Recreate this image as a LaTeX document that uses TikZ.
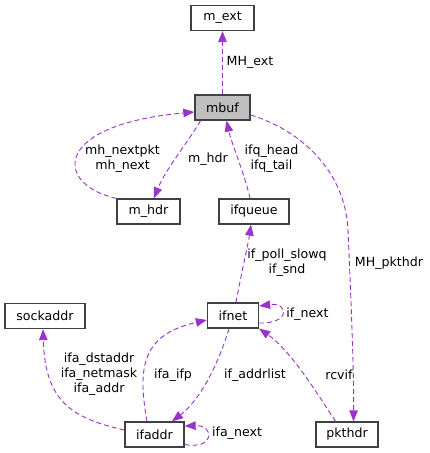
\documentclass[tikz,border=0pt]{standalone}
\usepackage{fontspec}
\setmainfont{DejaVu Sans}
\usetikzlibrary{arrows.meta}
\definecolor{edgepurple}{HTML}{9A32CD}
\definecolor{nodegray}{HTML}{BFBFBF}
\definecolor{boxline}{HTML}{404040}

\begin{document}
\begin{tikzpicture}[
    x=1pt, y=-1pt,
    cls/.style={
        draw=boxline,
        line width=1.3pt,
        fill=white,
        minimum height=25pt,
        inner sep=0pt,
        font=\fontsize{12.6}{15}\selectfont
    },
    usage/.style={
        -{Triangle[length=11pt,width=8.5pt]},
        dash pattern=on 5pt off 3pt,
        line width=0.9pt,
        color=edgepurple
    },
    lbl/.style={
        font=\fontsize{12.6}{15}\selectfont,
        align=center,
        inner sep=0pt
    }
]
\useasboundingbox (0,0) rectangle (429,453);

% classes
\node[cls, minimum width=63pt] (m_ext) at (222.5, 18) {m\_ext};
\node[cls, minimum width=55pt, fill=nodegray] (mbuf) at (222.5, 107.5) {mbuf};
\node[cls, minimum width=63pt] (m_hdr) at (148.5, 211.5) {m\_hdr};
\node[cls, minimum width=70pt] (ifqueue) at (254, 211.5) {ifqueue};
\node[cls, minimum width=80pt] (sockaddr) at (45, 316) {sockaddr};
\node[cls, minimum width=51pt] (ifnet) at (233, 315.5) {ifnet};
\node[cls, minimum width=59pt] (ifaddr) at (154.5, 434.5) {ifaddr};
\node[cls, minimum width=62pt] (pkthdr) at (347, 434.5) {pkthdr};

% usage edges
\draw[usage] (mbuf.north) -- (m_ext.south);
\draw[usage] (m_hdr.north west) .. controls (55,185) and (50,125) .. ([yshift=-4.5pt]mbuf.west);
\draw[usage] ([xshift=-22pt]mbuf.south) .. controls (193,135) and (165,170) .. ([xshift=5.5pt]m_hdr.north);
\draw[usage] ([xshift=-4pt]ifqueue.north) .. controls (245,175) and (232,145) .. ([xshift=4pt]mbuf.south);
\draw[usage] ([yshift=-7.5pt]mbuf.east) .. controls (300,130) and (345,170) .. (348,230)
    .. controls (351,300) and (354,370) .. ([xshift=6.5pt]pkthdr.north);
\draw[usage] ([xshift=3pt]ifnet.north) .. controls (241,275) and (248,245) .. ([xshift=-3pt]ifqueue.south);
\draw[usage] ([yshift=-7.5pt]ifnet.east) .. controls (291,324) and (289,302) .. ([yshift=9.5pt]ifnet.east);
\draw[usage] ([yshift=4.5pt]ifaddr.west) .. controls (70,418) and (45,400) .. ([xshift=-2pt]sockaddr.south);
\draw[usage] ([xshift=-7.5pt]ifaddr.north) .. controls (138,370) and (140,335) .. ([yshift=-4.5pt]ifnet.west);
\draw[usage] ([xshift=-4pt]ifnet.south) .. controls (218,365) and (200,400) .. ([xshift=17.5pt]ifaddr.north);
\draw[usage] ([yshift=-10pt]ifaddr.east) .. controls (215,450) and (215,425) .. ([yshift=8.5pt]ifaddr.east);
\draw[usage] ([xshift=-11.5pt]pkthdr.north) .. controls (315,390) and (290,350) .. (ifnet.south east);

% edge labels
\node[lbl] (l_mhext) at (250, 62) {MH\_ext};
\node[lbl] (l_mhnext) at (122.5, 159) {mh\_nextpkt\\mh\_next};
\node[lbl] (l_mhdr) at (208, 159) {m\_hdr};
\node[lbl] (l_ifq) at (271.5, 159) {ifq\_head\\ifq\_tail};
\node[lbl] (l_pkthdr) at (389, 263) {MH\_pkthdr};
\node[lbl] (l_snd) at (287, 263) {if\_poll\_slowq\\if\_snd};
\node[lbl] (l_ifnext) at (307.5, 314) {if\_next};
\node[lbl] (l_addr) at (99, 374) {ifa\_dstaddr\\ifa\_netmask\\ifa\_addr};
\node[lbl] (l_ifp) at (173, 375) {ifa\_ifp};
\node[lbl] (l_addrlist) at (255, 375) {if\_addrlist};
\node[lbl] (l_ifanext) at (237, 433) {ifa\_next};
\node[lbl] (l_rcvif) at (339, 375) {rcvif};

\end{tikzpicture}
\end{document}
